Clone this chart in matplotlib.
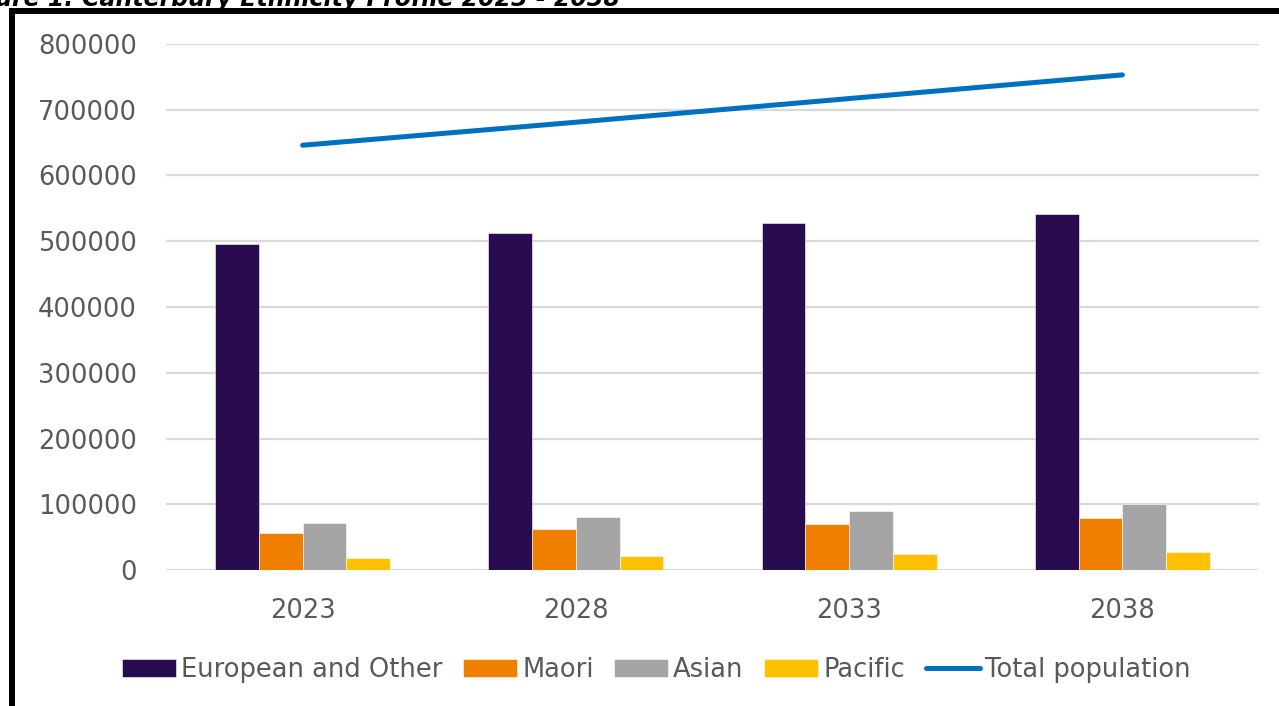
import matplotlib

matplotlib.use("Agg")
import matplotlib.pyplot as plt
import numpy as np
from matplotlib.patches import Rectangle

years = ["2023", "2028", "2033", "2038"]
european_other = [496000, 512000, 528000, 541000]
maori = [56000, 62000, 70000, 79000]
asian = [72000, 81000, 90000, 100000]
pacific = [18000, 21000, 24000, 27000]
total_population = [646000, 681000, 717000, 753000]

series_names = ["European and Other", "Maori", "Asian", "Pacific"]
series_colors = ["#290C4F", "#F07F00", "#A5A5A5", "#FFC000"]
line_color = "#0070C0"
text_color = "#595959"
grid_color = "#D9D9D9"

plt.rcParams["font.family"] = ["DejaVu Sans"]

fig = plt.figure(figsize=(12.79, 7.06), dpi=100)
ax = fig.add_axes([0.1298, 0.1926, 0.8546, 0.7451])

x = np.arange(len(years))
bar_width = 0.16
series = [european_other, maori, asian, pacific]
handles = []
for i, (values, name, color) in enumerate(zip(series, series_names, series_colors)):
    offset = (i - 1.5) * bar_width
    bars = ax.bar(x + offset, values, width=bar_width, color=color, label=name,
                  edgecolor="white", linewidth=0.4, zorder=3)
    handles.append(bars)

line, = ax.plot(x, total_population, color=line_color, linewidth=3.6,
                solid_capstyle="round", label="Total population", zorder=4)
handles.append(line)

ax.set_xlim(-0.5, 3.5)
ax.set_ylim(0, 800000)
ax.set_yticks(np.arange(0, 800001, 100000))
ax.set_yticklabels([str(v) for v in range(0, 800001, 100000)])
ax.set_xticks(x)
ax.set_xticklabels(years)
ax.grid(axis="y", color=grid_color, linewidth=1.6, zorder=0)
ax.set_axisbelow(True)
for spine in ax.spines.values():
    spine.set_visible(False)
ax.tick_params(axis="both", length=0, labelsize=18.5, labelcolor=text_color)
ax.tick_params(axis="y", pad=21)
ax.tick_params(axis="x", pad=20)

fig.legend(handles=handles, labels=series_names + ["Total population"],
           loc="center", bbox_to_anchor=(0.513, 0.051), ncol=5, frameon=False,
           fontsize=18.5, labelcolor=text_color, handlelength=2.1, handleheight=0.75,
           handletextpad=0.2, columnspacing=0.8)

# chart frame, running past the right and bottom edges
fig.patches.append(Rectangle((0.0094, -0.05), 1.1, 1.0344, transform=fig.transFigure,
                             fill=False, edgecolor="black", linewidth=4.3))

fig.text(-0.036, 0.992, "Figure 1: Canterbury Ethnicity Profile 2023 - 2038",
         fontsize=17, fontweight="bold", fontstyle="italic", color="black",
         va="baseline", ha="left")

fig.savefig("out.png", dpi=100)
